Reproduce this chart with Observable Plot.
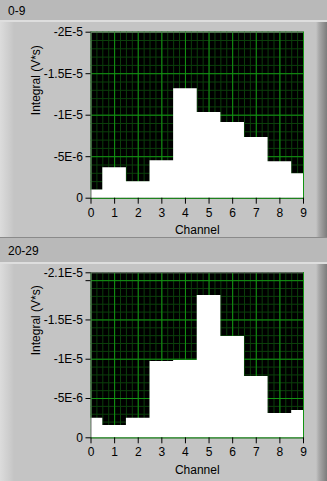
<!DOCTYPE html>
<html>
<head>
<meta charset="utf-8">
<script src="https://cdn.jsdelivr.net/npm/d3@7"></script>
<script src="https://cdn.jsdelivr.net/npm/@observablehq/plot@0.6"></script>
<style>
  html, body { margin: 0; padding: 0; }
  body {
    width: 327px; height: 481px; overflow: hidden;
    background: #bdbdbd;
    font-family: "Liberation Sans", Arial, sans-serif;
  }
  .strip {
    box-sizing: border-box;
    background: #b9b9b9;
    border-bottom: 2px solid #dedede;
    font-size: 12px;
    padding-left: 8px;
    color: #000;
  }
  #strip1 { height: 22px; line-height: 22px; }
  #strip2 { height: 27px; line-height: 26px; border-top: 1px solid #8a8a8a; }
  .panel {
    background: linear-gradient(to right, #dcdcdc 0px, #cacaca 11px, #c4c4c4 14px, #c4c4c4 316px, #a9a9a9 319px, #7c7c7c 327px);
  }
  .panel svg { display: block; }
</style>
</head>
<body>
<div class="strip" id="strip1">0-9</div>
<div class="panel" id="panel1"></div>
<div class="strip" id="strip2">20-29</div>
<div class="panel" id="panel2"></div>
<script>
// Channel index along the x axis
const channels = [0, 1, 2, 3, 4, 5, 6, 7, 8, 9];

// Integral per channel (V*s), group 0-9
const integral0to9 = [-1.0e-6, -3.67e-6, -1.97e-6, -4.52e-6, -13.2e-6, -10.33e-6, -9.12e-6, -7.3e-6, -4.4e-6, -2.94e-6];

// Integral per channel (V*s), group 20-29
const integral20to29 = [-2.5e-6, -1.57e-6, -2.5e-6, -9.7e-6, -9.83e-6, -18.1e-6, -12.9e-6, -7.8e-6, -3.1e-6, -3.47e-6];

// Y tick values and their labels
const yTicks1 = [0, -5e-6, -1e-5, -1.5e-5, -2e-5];
const yLabels1 = ["0", "-5E-6", "-1E-5", "-1.5E-5", "-2E-5"];
const yTicks2 = [0, -5e-6, -1e-5, -1.5e-5, -2e-5, -2.1e-5];
const yLabels2 = ["0", "-5E-6", "-1E-5", "-1.5E-5", "", "-2.1E-5"];

const xLabels = ["0", "1", "2", "3", "4", "5", "6", "7", "8", "9"];

const font = "Liberation Sans, Arial, sans-serif";

function graph({values, yTop, ticks, labels, height, marginTop, marginBottom}) {
  // grid steps: quarter channel on x, 1E-6 on y (major every 5E-6)
  const minorX = d3.range(0, 37).map(i => i / 4);
  const nY = Math.round(-yTop / 1e-6);
  const minorY = d3.range(0, nY + 1).map(i => -i * 1e-6);
  const majorY = minorY.filter((d, i) => i % 5 === 0);
  return Plot.plot({
    width: 327,
    height,
    marginLeft: 90.5,
    marginRight: 24,
    marginTop,
    marginBottom,
    style: {background: "transparent", fontFamily: font, fontSize: "12px", color: "#000", overflow: "visible"},
    x: {domain: [0, 9]},
    y: {domain: [0, yTop]},
    marks: [
      Plot.frame({fill: "#000"}),
      Plot.gridX({ticks: minorX, stroke: "#0b3f0b", strokeOpacity: 1}),
      Plot.gridY({ticks: minorY, stroke: "#0b3f0b", strokeOpacity: 1}),
      Plot.gridX({ticks: channels, stroke: "#139413", strokeOpacity: 1}),
      Plot.gridY({ticks: majorY, stroke: "#139413", strokeOpacity: 1}),
      Plot.areaY(channels, {x: channels, y: values, curve: "step", fill: "#fff"}),
      Plot.ruleX([0], {stroke: "#6f6f6f"}),
      Plot.ruleY([yTop], {stroke: "#6f6f6f"}),
      Plot.axisX({ticks: channels, tickFormat: d => xLabels[channels.indexOf(d)], tickSize: 6, tickPadding: 4, label: null, fontSize: 12}),
      Plot.axisY({ticks, tickFormat: d => labels[ticks.indexOf(d)], tickSize: 5, tickPadding: 3, label: null, fontSize: 12}),
      Plot.text(["Channel"], {frameAnchor: "bottom", lineAnchor: "middle", dy: 32, fontSize: 12, fill: "#000"}),
      Plot.text(["Integral (V*s)"], {frameAnchor: "left", lineAnchor: "middle", rotate: -90, dx: -55, fontSize: 12, fill: "#000"})
    ]
  });
}

document.getElementById("panel1").append(graph({
  values: integral0to9, yTop: -2e-5, ticks: yTicks1, labels: yLabels1,
  height: 215, marginTop: 9.7, marginBottom: 39.3
}));

document.getElementById("panel2").append(graph({
  values: integral20to29, yTop: -2.1e-5, ticks: yTicks2, labels: yLabels2,
  height: 217, marginTop: 8.3, marginBottom: 43.7
}));
</script>
</body>
</html>
